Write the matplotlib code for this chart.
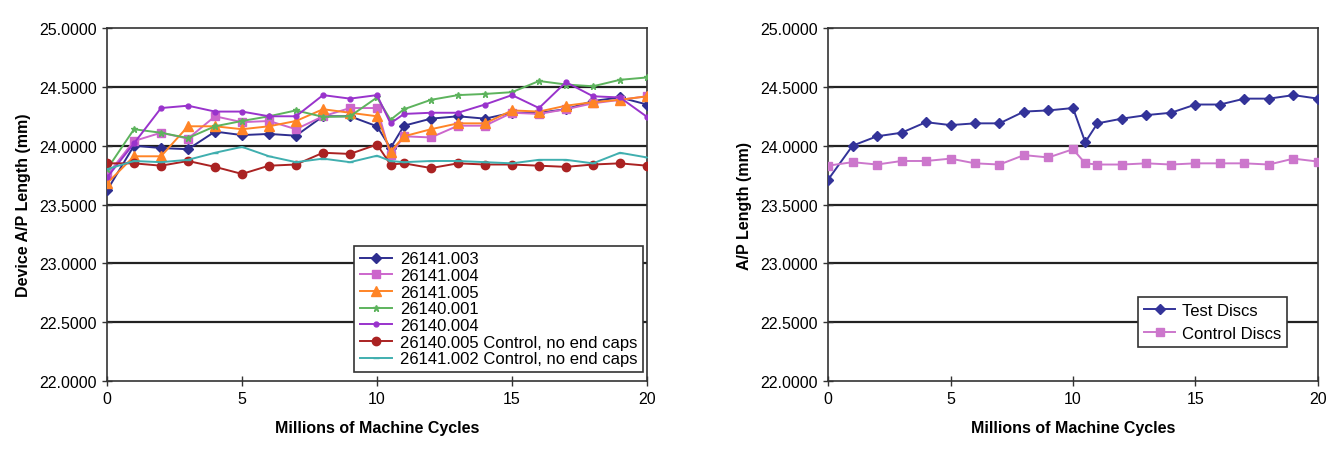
import numpy as np
import matplotlib
matplotlib.use("Agg")
import matplotlib.pyplot as plt

plt.rcParams["font.family"] = ["Liberation Sans", "DejaVu Sans"]

# x positions: millions of machine cycles (extra reading at 10.5)
cycles = [0, 1, 2, 3, 4, 5, 6, 7, 8, 9, 10, 10.5, 11, 12, 13, 14, 15, 16, 17, 18, 19, 20]

# left chart: individual devices
dev_26141_003 = [23.62, 24.00, 23.98, 23.97, 24.12, 24.09, 24.10, 24.085, 24.25, 24.25, 24.165,
                 23.98, 24.17, 24.23, 24.25, 24.23, 24.28, 24.28, 24.31, 24.38, 24.41, 24.35]
dev_26141_004 = [23.75, 24.04, 24.11, 24.06, 24.25, 24.20, 24.21, 24.14, 24.25, 24.32, 24.32,
                 23.92, 24.08, 24.07, 24.17, 24.17, 24.28, 24.27, 24.31, 24.36, 24.39, 24.42]
dev_26141_005 = [23.68, 23.91, 23.91, 24.165, 24.165, 24.14, 24.165, 24.21, 24.31, 24.28, 24.25,
                 23.95, 24.08, 24.14, 24.19, 24.19, 24.30, 24.29, 24.34, 24.37, 24.39, 24.42]
dev_26140_001 = [23.80, 24.14, 24.11, 24.065, 24.165, 24.21, 24.25, 24.30, 24.245, 24.25, 24.41,
                 24.22, 24.31, 24.39, 24.43, 24.44, 24.455, 24.55, 24.52, 24.505, 24.56, 24.58]
dev_26140_004 = [23.73, 24.02, 24.32, 24.34, 24.29, 24.29, 24.25, 24.25, 24.43, 24.40, 24.43,
                 24.19, 24.27, 24.28, 24.28, 24.35, 24.43, 24.32, 24.54, 24.42, 24.41, 24.245]
dev_26140_005 = [23.85, 23.85, 23.83, 23.87, 23.82, 23.76, 23.83, 23.84, 23.94, 23.93, 24.01,
                 23.84, 23.85, 23.81, 23.85, 23.84, 23.84, 23.83, 23.82, 23.84, 23.85, 23.83]
dev_26141_002 = [23.80, 23.87, 23.86, 23.88, 23.94, 23.99, 23.91, 23.86, 23.89, 23.86, 23.915,
                 23.87, 23.86, 23.87, 23.87, 23.86, 23.85, 23.88, 23.88, 23.85, 23.94, 23.90]

device_labels = ["26141.003", "26141.004", "26141.005", "26140.001", "26140.004",
                 "26140.005 Control, no end caps", "26141.002 Control, no end caps"]

# right chart: averages
test_discs = [23.71, 24.00, 24.08, 24.11, 24.20, 24.175, 24.19, 24.19, 24.29, 24.30, 24.32,
              24.03, 24.19, 24.23, 24.26, 24.28, 24.35, 24.35, 24.40, 24.40, 24.43, 24.40]
control_discs = [23.83, 23.86, 23.84, 23.87, 23.87, 23.89, 23.85, 23.84, 23.92, 23.90, 23.97,
                 23.85, 23.84, 23.84, 23.85, 23.84, 23.85, 23.85, 23.85, 23.84, 23.89, 23.865]

y_ticks = [22.0, 22.5, 23.0, 23.5, 24.0, 24.5, 25.0]
x_ticks = [0, 5, 10, 15, 20]


def style_axes(ax, ylabel):
    ax.set_xlim(0, 20)
    ax.set_ylim(22.0, 25.0)
    ax.set_yticks(y_ticks)
    ax.set_yticklabels([f"{v:.4f}" for v in y_ticks])
    ax.set_xticks(x_ticks)
    ax.tick_params(axis="both", labelsize=11.5, direction="inout", length=7, width=1,
                   color="#333333")
    ax.tick_params(axis="y", pad=4)
    for s in ax.spines.values():
        s.set_color("#333333")
        s.set_linewidth(1.2)
    for v in y_ticks[1:-1]:
        ax.axhline(v, color="#222222", lw=1.6, zorder=1)
    ax.set_xlabel("Millions of Machine Cycles", fontsize=11.5, fontweight="bold", labelpad=10)
    ax.set_ylabel(ylabel, fontsize=11.5, fontweight="bold", labelpad=6)


fig = plt.figure(figsize=(13.31, 4.56), dpi=100)
ax1 = fig.add_axes([0.0804, 0.1623, 0.4057, 0.774])
ax2 = fig.add_axes([0.6221, 0.1623, 0.3681, 0.774])

series = [dev_26141_003, dev_26141_004, dev_26141_005, dev_26140_001,
          dev_26140_004, dev_26140_005, dev_26141_002]
colors = ["#2E2E8F", "#CC66CC", "#FF8426", "#5DB35D", "#9933CC", "#AA2222", "#40AFAF"]
markers = ["D", "s", "^", "*", "o", "o", "_"]
msizes = [5.5, 6, 7, 5, 3.5, 6, 4]
for vals, lab, c, m, ms in zip(series, device_labels, colors, markers, msizes):
    ax1.plot(cycles, vals, color=c, marker=m, markersize=ms, lw=1.4, label=lab, zorder=3)

style_axes(ax1, "Device A/P Length (mm)")
leg1 = ax1.legend(loc="lower right", bbox_to_anchor=(0.993, 0.025), borderaxespad=0,
                  fontsize=12, frameon=True, fancybox=False, framealpha=1,
                  edgecolor="#333333", labelspacing=0.1, handlelength=1.9,
                  borderpad=0.35, handletextpad=0.5)
leg1.get_frame().set_linewidth(1.2)

ax2.plot(cycles, test_discs, color="#333399", marker="D", markersize=5, lw=1.4,
         label="Test Discs", zorder=3)
ax2.plot(cycles, control_discs, color="#CC77CC", marker="s", markersize=5.5, lw=1.4,
         label="Control Discs", zorder=3)
style_axes(ax2, "A/P Length (mm)")
leg2 = ax2.legend(loc="lower right", bbox_to_anchor=(0.937, 0.096), borderaxespad=0,
                  fontsize=12, frameon=True, fancybox=False, framealpha=1,
                  edgecolor="#333333", labelspacing=0.5, handlelength=1.9,
                  borderpad=0.35, handletextpad=0.4)
leg2.get_frame().set_linewidth(1.2)

fig.savefig("out.png", dpi=100)
